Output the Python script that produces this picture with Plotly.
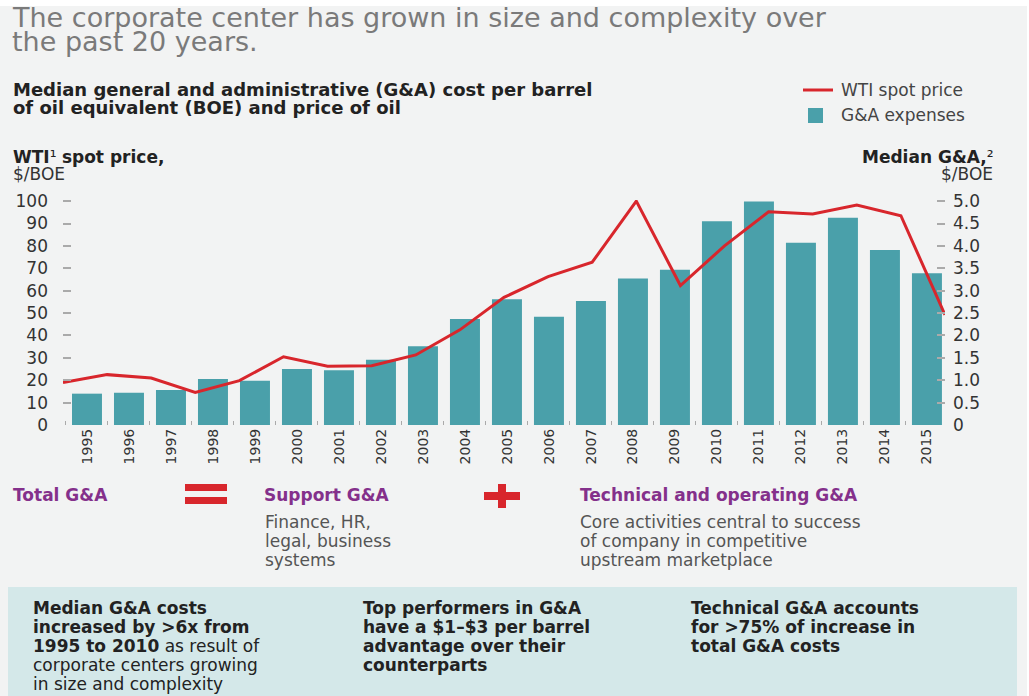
import plotly.graph_objects as go

years = [str(y) for y in range(1995, 2016)]
wti_price = [19.0, 22.5, 21.0, 14.5, 19.8, 30.5, 26.2, 26.5, 31.3, 42.5, 57.0,
             66.3, 72.7, 100.0, 62.3, 80.0, 95.2, 94.3, 98.2, 93.5, 49.2]
ga_expenses = [0.70, 0.72, 0.78, 1.03, 0.99, 1.25, 1.22, 1.46, 1.76, 2.37, 2.81,
               2.42, 2.77, 3.27, 3.47, 4.55, 4.99, 4.07, 4.63, 3.91, 3.39]
left_ticks = [0, 10, 20, 30, 40, 50, 60, 70, 80, 90, 100]
right_ticks = [0, 0.5, 1.0, 1.5, 2.0, 2.5, 3.0, 3.5, 4.0, 4.5, 5.0]
right_labels = ["0", "0.5", "1.0", "1.5", "2.0", "2.5", "3.0", "3.5", "4.0", "4.5", "5.0"]

W, H = 1029, 696
L, R, T, B = 63, 945, 200, 425
FONT = "DejaVu Sans"
TEAL = "#4aa0aa"
RED = "#d8262c"
PURPLE = "#84308b"
BG = "#f2f3f3"


def px(x):
    return (x - L) / (R - L)


def py(y):
    return (B - y) / (B - T)


fig = go.Figure()
fig.add_trace(go.Bar(x=years, y=ga_expenses, name="G&A expenses", marker_color=TEAL,
                     marker_line_width=0, xaxis="x", yaxis="y"))
fig.add_trace(go.Scatter(x=[int(y) for y in years], y=wti_price, name="WTI spot price",
                         mode="lines", line=dict(color=RED, width=3),
                         xaxis="x2", yaxis="y2"))

annotations = []


def text(x, y, s, size=17, color="#333", anchor="left", bold=False):
    if bold:
        s = "<b>" + s + "</b>"
    annotations.append(dict(x=px(x), y=py(y), xref="paper", yref="paper", text=s,
                            showarrow=False, xanchor=anchor, yanchor="middle",
                            font=dict(family=FONT, size=size, color=color)))


# title
text(10, 18, "The corporate center has grown in size and complexity over", 27, "#7a7a7a")
text(10, 42, "the past 20 years.", 27, "#7a7a7a")
# subtitle
text(11, 90, "Median general and administrative (G&A) cost per barrel", 18, "#222", bold=True)
text(11, 107, "of oil equivalent (BOE) and price of oil", 18, "#222", bold=True)
# legend (drawn by hand)
text(839, 90, "WTI spot price", 17, "#444")
text(839, 115, "G&A expenses", 17, "#444")
# axis titles
text(11, 157, "<b>WTI</b>¹ <b>spot price,</b>", 17, "#222")
text(11, 174, "$/BOE", 17, "#333")
text(995, 157, "<b>Median G&A,</b>²", 17, "#222", anchor="right")
text(995, 174, "$/BOE", 17, "#333", anchor="right")
# equation row
text(11, 495, "Total G&A", 17, PURPLE, bold=True)
text(262, 495, "Support G&A", 17, PURPLE, bold=True)
text(578, 495, "Technical and operating G&A", 17, PURPLE, bold=True)
for i, s in enumerate(["Finance, HR,", "legal, business", "systems"]):
    text(263, 522 + 19 * i, s, 17, "#555")
for i, s in enumerate(["Core activities central to success", "of company in competitive",
                       "upstream marketplace"]):
    text(578, 522 + 19 * i, s, 17, "#555")
# box text
col1 = ["<b>Median G&A costs</b>", "<b>increased by >6x from</b>",
        "<b>1995 to 2010</b> as result of", "corporate centers growing", "in size and complexity"]
col2 = ["Top performers in G&A", "have a $1–$3 per barrel", "advantage over their", "counterparts"]
col3 = ["Technical G&A accounts", "for >75% of increase in", "total G&A costs"]
for i, s in enumerate(col1):
    text(31, 608 + 19 * i, s, 17, "#222")
for i, s in enumerate(col2):
    text(361, 608 + 19 * i, s, 17, "#222", bold=True)
for i, s in enumerate(col3):
    text(689, 608 + 19 * i, s, 17, "#222", bold=True)


def rect(x0, x1, y0, y1, color, layer="above"):
    return dict(type="rect", xref="paper", yref="paper", x0=px(x0), x1=px(x1),
                y0=py(y0), y1=py(y1), fillcolor=color, line_width=0, layer=layer)


shapes = [
    rect(-5, 1040, -5, 6, "white", "below"),
    rect(1027, 1040, -5, 700, "white", "below"),
    rect(8, 1017, 587, 700, "#d4e8e9", "below"),
    rect(185, 227, 484, 491, RED),
    rect(185, 227, 497, 504, RED),
    rect(484, 520, 492, 500, RED),
    rect(498, 506, 484, 508, RED),
    # legend symbols
    dict(type="line", xref="paper", yref="paper", x0=px(803), x1=px(833), y0=py(90), y1=py(90),
         line=dict(color=RED, width=3)),
    rect(808, 823, 108, 123, TEAL),
]

fig.update_layout(
    width=W, height=H,
    margin=dict(l=L, r=W - R, t=T, b=H - B, pad=0),
    paper_bgcolor=BG, plot_bgcolor=BG,
    bargap=0.286,
    showlegend=False,
    xaxis=dict(type="category", range=[-0.571, 20.43], tickangle=-90,
               ticks="inside", tickson="boundaries", ticklen=4, tickcolor="#aaa",
               showgrid=False, zeroline=False, showline=False,
               tickfont=dict(family=FONT, size=14, color="#333")),
    xaxis2=dict(overlaying="x", range=[1995, 2015], visible=False),
    yaxis=dict(side="right", range=[0, 5.025], tickvals=right_ticks, ticktext=right_labels,
               ticks="inside", ticklen=8, tickwidth=1.5, tickcolor="#aaa",
               ticklabelstandoff=7,
               showgrid=False, zeroline=False, showline=False,
               tickfont=dict(family=FONT, size=17, color="#333")),
    yaxis2=dict(side="left", overlaying="y", range=[0, 100.5], tickvals=left_ticks,
                ticks="inside", ticklen=8, tickwidth=1.5, tickcolor="#aaa",
                ticklabelstandoff=14,
                showgrid=False, zeroline=False, showline=False,
                tickfont=dict(family=FONT, size=17, color="#333")),
    annotations=annotations,
    shapes=shapes,
)

fig.write_html("out.html", config={"displayModeBar": False},
               post_script="document.body.style.margin='0px';")
